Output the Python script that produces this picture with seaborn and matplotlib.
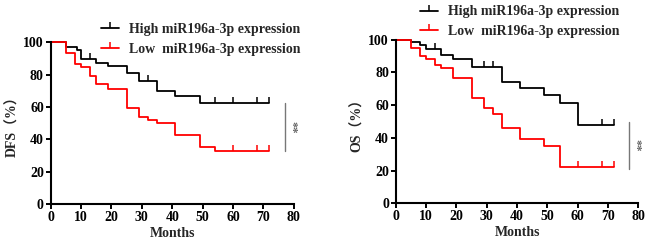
import numpy as np
import pandas as pd
import matplotlib
matplotlib.use("Agg")
import matplotlib.pyplot as plt
from matplotlib.lines import Line2D
import seaborn as sns

# DFS panel (months, % surviving)
dfs_high_t = [0, 5, 8.5, 10, 15, 19, 25, 29, 35, 41, 49, 72]
dfs_high_s = [100, 97, 95, 89.5, 87.5, 85.5, 81, 76, 70, 67, 62.5, 62.5]
dfs_high_cens = [13, 32, 54, 60, 68, 72]
dfs_low_t = [0, 5, 8, 10, 13, 15, 19, 25, 29, 32, 35, 41, 49, 54, 72]
dfs_low_s = [100, 93.5, 86.5, 85, 79.5, 74, 71, 59.5, 54, 52, 50, 43, 35.5, 33, 33]
dfs_low_cens = [60, 68, 72]

# OS panel
os_high_t = [0, 5, 8, 10, 15, 19, 25, 35, 41, 49, 54, 60, 72]
os_high_s = [100, 98.5, 96.5, 94.5, 90.5, 88, 83.5, 74, 70.5, 66, 61.5, 48, 48]
os_high_cens = [13, 29, 32, 68, 72]
os_low_t = [0, 5, 8, 10, 13, 15, 19, 25, 29, 32, 35, 41, 49, 54, 72]
os_low_s = [100, 95, 90, 88, 84.5, 82.5, 76.5, 64.5, 58.5, 54.5, 46, 39.5, 35, 22.5, 22.5]
os_low_cens = [60, 68, 72]

groups = ["High miR196a-3p expression", "Low  miR196a-3p expression"]
colors = {"High miR196a-3p expression": "black", "Low  miR196a-3p expression": "#ff0000"}

# significance bars: (x, y_top, y_bottom)
dfs_sig = (77, 62.5, 33)
os_sig = (77, 49.5, 21)

sns.set_style("ticks")
serif = ["Liberation Serif", "Noto Sans CJK SC"]
plt.rcParams["font.family"] = serif
plt.rcParams["font.weight"] = "bold"

fig = plt.figure(figsize=(6.5, 2.45), dpi=100)
ax1 = fig.add_axes([0.078, 0.167, 0.374, 0.66])
ax2 = fig.add_axes([0.609, 0.170, 0.373, 0.668])


def step_value(t, s, x):
    idx = np.searchsorted(t, x, side="right") - 1
    return np.array(s)[idx]


def draw_panel(ax, high, low, sig, ylabel, leg_anchor):
    rows = []
    for g, (t, s, _) in zip(groups, [high, low]):
        for ti, si in zip(t, s):
            rows.append({"t": ti, "s": si, "group": g})
    df = pd.DataFrame(rows)
    sns.lineplot(data=df, x="t", y="s", hue="group", palette=colors,
                 drawstyle="steps-post", estimator=None, sort=False,
                 lw=1.3, ax=ax, clip_on=False, legend=False)
    for g, (t, s, c) in zip(groups, [high, low]):
        ax.plot(c, step_value(t, s, c), linestyle="none", marker=2,
                markersize=4, mew=1.1, color=colors[g], clip_on=False)
    handles = [Line2D([], [], color=colors[g], lw=1.3, marker=2,
                      markersize=4, mew=1.1) for g in groups]
    ax.legend(handles, groups, loc="upper left", bbox_to_anchor=leg_anchor,
              bbox_transform=fig.transFigure, frameon=False, numpoints=1,
              prop={"family": serif, "weight": "bold", "size": 10},
              handlelength=1.3, handletextpad=0.75, labelspacing=0.45,
              borderpad=0, borderaxespad=0)
    x, y0, y1 = sig
    ax.plot([x, x], [y0, y1], color="#777777", lw=1, clip_on=False)
    ax.text(x + 2.2, (y0 + y1) / 2, "**", rotation=-90, color="#666666",
            ha="center", va="center", fontsize=9)

    ax.set_xlim(0, 80)
    ax.set_ylim(0, 100)
    ax.set_xticks(range(0, 81, 10))
    ax.set_yticks(range(0, 101, 20))
    ax.set_xlabel("Months", fontsize=10, fontweight="bold", labelpad=2)
    ax.set_ylabel(ylabel, fontsize=10, fontweight="bold", labelpad=3)
    ax.tick_params(direction="out", length=3.5, width=1.4, labelsize=10,
                   pad=1.5, colors="black")
    for lab in ax.get_xticklabels() + ax.get_yticklabels():
        lab.set_fontweight("bold")
    for sp in ["left", "bottom"]:
        ax.spines[sp].set_linewidth(1.5)
        ax.spines[sp].set_color("black")
    sns.despine(ax=ax)


draw_panel(ax1, (dfs_high_t, dfs_high_s, dfs_high_cens),
           (dfs_low_t, dfs_low_s, dfs_low_cens), dfs_sig,
           "DFS（%）", (0.155, 0.905))
draw_panel(ax2, (os_high_t, os_high_s, os_high_cens),
           (os_low_t, os_low_s, os_low_cens), os_sig,
           "OS（%）", (0.646, 0.978))

fig.savefig("out.png", dpi=100)
